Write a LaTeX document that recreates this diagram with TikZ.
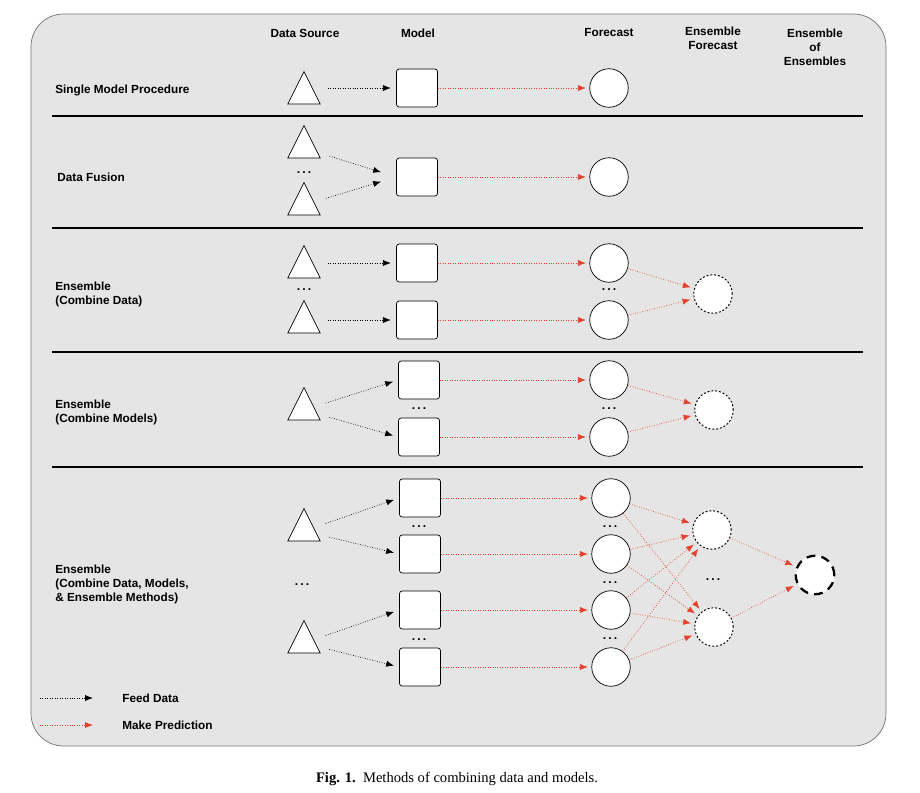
\documentclass[tikz,border=0pt]{standalone}
\usepackage{fontspec}
\setmainfont{Liberation Serif}
\setsansfont{Liberation Sans}
\usepackage{xcolor}
\usetikzlibrary{arrows.meta, shapes.geometric}
\definecolor{panel}{HTML}{E5E5E5}
\definecolor{predred}{HTML}{E5412D}

\begin{document}
\begin{tikzpicture}[x=0.02cm, y=-0.02cm,
    lbl/.style={font=\sffamily\bfseries\fontsize{6.7}{8}\selectfont, align=center, inner sep=0},
    rowlbl/.style={lbl, align=left, anchor=west},
    src/.style={draw, fill=white, isosceles triangle, isosceles triangle stretches,
        shape border rotate=90, minimum width=0.65cm, minimum height=0.65cm, inner sep=0},
    mdl/.style={draw, fill=white, rounded corners=1.5pt, minimum width=0.82cm, minimum height=0.76cm, inner sep=0},
    fc/.style={draw, fill=white, circle, minimum size=0.77cm, inner sep=0},
    ens/.style={fc, dash pattern=on 1.1pt off 1.1pt, line width=0.55pt},
    ensens/.style={fc, dash pattern=on 5pt off 3.5pt, line width=1.3pt},
    feed/.style={densely dotted, thin, -{Latex[length=4.5pt, width=3.5pt]}, shorten >=3pt, shorten <=7pt},
    pred/.style={densely dotted, thin, predred, -{Latex[length=4.5pt, width=3.5pt]}, shorten >=2pt},
    dots/.style={font=\sffamily\bfseries\fontsize{7}{8}\selectfont, inner sep=0},
    sep/.style={line width=1.5pt}
]
    % Panel
    \useasboundingbox (0,0) rectangle (920,792);
    \draw[fill=panel, draw=black!55, rounded corners=0.65cm] (31,14) rectangle (886,746);

    % Column headers
    \node[lbl] (hsrc) at (305,33) {Data Source};
    \node[lbl] (hmdl) at (418,33) {Model};
    \node[lbl] (hfc) at (609,33) {Forecast};
    \node[lbl] (hens) at (713,38) {Ensemble\\Forecast};
    \node[lbl] (hee) at (815,47) {Ensemble\\of\\Ensembles};

    % Separators
    \foreach \y in {116, 228, 352, 467}
        \draw[sep] (52,\y) -- (863,\y);

    % Single model procedure
    \node[rowlbl] (l1) at (55,90) {Single Model Procedure};
    \node[src] (s1) at (304,94) {};
    \node[mdl] (m1) at (417,88) {};
    \node[fc] (f1) at (609,88) {};
    \draw[feed] (s1.east |- m1) -- (m1);
    \draw[pred] (m1) -- (f1);

    % Data fusion
    \node[rowlbl] (l2) at (57,177) {Data Fusion};
    \node[src] (s2a) at (304,148) {};
    \node[src] (s2b) at (304,205) {};
    \node[dots] (d2) at (304,173) {.\,.\,.};
    \node[mdl] (m2) at (417,177) {};
    \node[fc] (f2) at (609,177) {};
    \draw[feed, shorten >=9pt] (s2a) -- (m2.west);
    \draw[feed, shorten >=9pt] (s2b) -- (m2.west);
    \draw[pred] (m2) -- (f2);

    % Ensemble (combine data)
    \node[rowlbl] (l3) at (55,294) {Ensemble\\(Combine Data)};
    \node[src] (s3a) at (304,268) {};
    \node[src] (s3b) at (304,323) {};
    \node[dots] (d3a) at (304,290) {.\,.\,.};
    \node[mdl] (m3a) at (417,263) {};
    \node[mdl] (m3b) at (417,320) {};
    \node[fc] (f3a) at (609,263) {};
    \node[fc] (f3b) at (609,320) {};
    \node[dots] (d3b) at (609,290) {.\,.\,.};
    \node[ens] (e3) at (713,294) {};
    \draw[feed] (s3a.east |- m3a) -- (m3a);
    \draw[feed] (s3b.east |- m3b) -- (m3b);
    \draw[pred] (m3a) -- (f3a);
    \draw[pred] (m3b) -- (f3b);
    \draw[pred] (f3a) -- (e3);
    \draw[pred] (f3b) -- (e3);

    % Ensemble (combine models)
    \node[rowlbl] (l4) at (55,412) {Ensemble\\(Combine Models)};
    \node[src] (s4) at (304,410) {};
    \node[mdl] (m4a) at (419,380) {};
    \node[mdl] (m4b) at (419,437) {};
    \node[dots] (d4a) at (419,409) {.\,.\,.};
    \node[fc] (f4a) at (609,380) {};
    \node[fc] (f4b) at (609,437) {};
    \node[dots] (d4b) at (609,409) {.\,.\,.};
    \node[ens] (e4) at (714,410) {};
    \draw[feed] (s4) -- (m4a.west);
    \draw[feed] (s4) -- (m4b.west);
    \draw[pred] (m4a) -- (f4a);
    \draw[pred] (m4b) -- (f4b);
    \draw[pred] (f4a) -- (e4);
    \draw[pred] (f4b) -- (e4);

    % Ensemble (combine data, models and methods)
    \node[rowlbl] (l5) at (55,584) {Ensemble\\(Combine Data, Models,\\\& Ensemble Methods)};
    \node[src] (s5a) at (304,531) {};
    \node[src] (s5b) at (304,643) {};
    \node[dots] (d5s) at (302,585) {.\,.\,.};
    \foreach \i/\y in {1/498, 2/554, 3/610, 4/667} {
        \node[mdl] (m5\i) at (420,\y) {};
        \node[fc] (f5\i) at (611,\y) {};
        \draw[pred] (m5\i) -- (f5\i);
    }
    \node[dots] (d5m1) at (419,527) {.\,.\,.};
    \node[dots] (d5m2) at (419,640) {.\,.\,.};
    \node[dots] (d5f1) at (610,527) {.\,.\,.};
    \node[dots] (d5f2) at (610,583) {.\,.\,.};
    \node[dots] (d5f3) at (610,639) {.\,.\,.};
    \node[ens] (e5a) at (712,530) {};
    \node[ens] (e5b) at (714,627) {};
    \node[dots] (d5e) at (713,580) {.\,.\,.};
    \node[ensens] (g5) at (815,575) {};
    \draw[feed] (s5a) -- (m51.west);
    \draw[feed] (s5a) -- (m52.west);
    \draw[feed] (s5b) -- (m53.west);
    \draw[feed] (s5b) -- (m54.west);
    \foreach \i in {1,...,4} {
        \draw[pred] (f5\i) -- (e5a);
        \draw[pred] (f5\i) -- (e5b);
    }
    \draw[pred] (e5a) -- (g5);
    \draw[pred] (e5b) -- (g5);

    % Legend
    \coordinate (k1a) at (40,698);
    \coordinate (k1b) at (93,698);
    \coordinate (k2a) at (40,725);
    \coordinate (k2b) at (93,725);
    \draw[feed, shorten <=0pt, shorten >=0pt] (k1a) -- (k1b);
    \draw[pred, shorten >=0pt] (k2a) -- (k2b);
    \node[rowlbl] (kfeed) at (122,698) {Feed Data};
    \node[rowlbl] (kpred) at (122,725) {Make Prediction};

    % Caption
    \node[font=\fontsize{8.3}{10}\selectfont] (cap) at (457,779) {\textbf{Fig. 1.}\enspace Methods of combining data and models.};
\end{tikzpicture}
\end{document}
